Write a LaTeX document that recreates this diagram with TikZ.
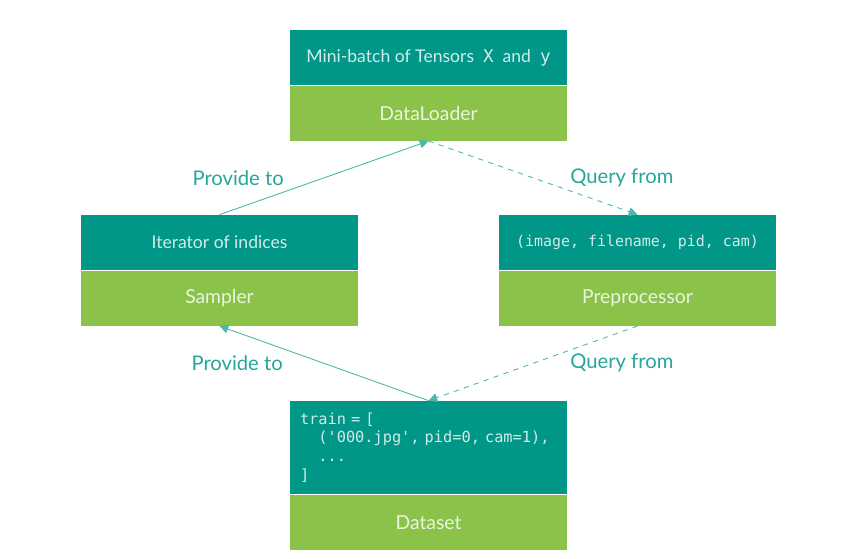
\documentclass[tikz,border=0pt]{standalone}
\usepackage{fontspec}
\setmainfont{Lato}
\setmonofont{DejaVu Sans Mono}
\usetikzlibrary{positioning,arrows.meta}
\definecolor{tealbox}{HTML}{009688}
\definecolor{greenbox}{HTML}{8BC34A}
\definecolor{linkline}{HTML}{4DB6AC}
\definecolor{linktext}{HTML}{26A69A}
\begin{document}
\begin{tikzpicture}[
    head/.style={fill=tealbox, minimum width=5.54cm, minimum height=1.1cm, inner sep=0pt,
        text=white, text opacity=0.82, font=\fontsize{10}{12}\selectfont},
    body/.style={fill=greenbox, minimum width=5.54cm, minimum height=1.1cm, inner sep=0pt,
        text=white, text opacity=0.82, font=\fontsize{11}{13}\selectfont},
    link/.style={linkline, line width=0.5pt, -{Triangle[length=5pt,width=5pt]}},
    tag/.style={text=linktext, font=\fontsize{11.5}{13}\selectfont}
]
    \useasboundingbox (0,0) rectangle (17,11.18);

    % boxes
    \node[head] (loaderTop) at (8.57,10.03) {Mini-batch of Tensors \ \texttt{X} \ and \ \texttt{y}};
    \node[body, below=0pt of loaderTop] (loader) {DataLoader};

    \node[head] (samplerTop) at (4.39,6.33) {Iterator of indices};
    \node[body, below=0pt of samplerTop] (sampler) {Sampler};

    \node[head, font=\ttfamily\fontsize{8.5}{10}\selectfont] (prepTop) at (12.75,6.33) {(image, filename, pid, cam)};
    \node[body, below=0pt of prepTop] (prep) {Preprocessor};

    \node[head, minimum height=1.86cm, text width=5.14cm, inner xsep=0.2cm, align=left,
        font=\ttfamily\fontsize{8.7}{10.6}\selectfont] (datasetTop) at (8.57,2.23)
        {train = [\\\phantom{xx}('000.jpg', pid=0, cam=1),\\\phantom{xx}...\\]};
    \node[body, below=0pt of datasetTop] (dataset) {Dataset};

    % connectors
    \draw[link] (samplerTop.north) -- (loader.south) node[tag, midway, left=0.68cm] {Provide to};
    \draw[link, dashed] (loader.south) -- (prepTop.north) node[tag, midway, right=0.62cm] {Query from};
    \draw[link] (datasetTop.north) -- (sampler.south) node[tag, midway, left=0.7cm] {Provide to};
    \draw[link, dashed] (prep.south) -- (datasetTop.north) node[tag, midway, right=0.62cm] {Query from};
\end{tikzpicture}
\end{document}
